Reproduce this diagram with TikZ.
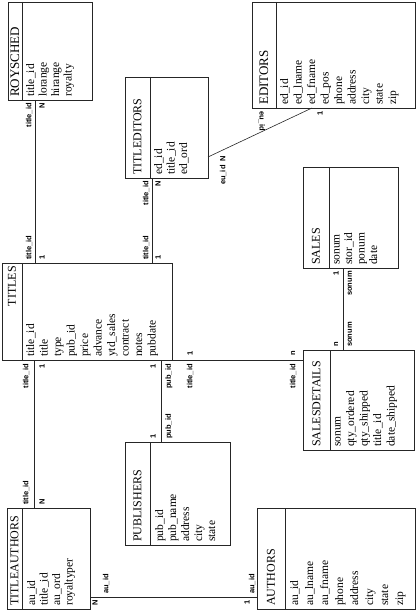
\documentclass[tikz,border=0pt]{standalone}
\usepackage{fontspec}
\setmainfont{Liberation Serif}
\newfontfamily\lblfont{Liberation Sans}
\newcommand\fsz[1]{\fontsize{11.5}{#1}\selectfont}
\begin{document}
\begin{tikzpicture}[x=1pt,y=-1pt,
  box/.style={draw=black!85, line width=0.75pt, inner sep=0pt, outer sep=0pt, anchor=north west},
  divline/.style={draw=black!85, line width=0.75pt},
  ttl/.style={rotate=90, anchor=west, inner sep=0pt, font=\fontsize{12}{13}\selectfont},
  fld/.style={rotate=90, anchor=north west, inner sep=0pt, align=left, font=\fsz{12.5}},
  lbl/.style={rotate=90, inner sep=0pt, font=\lblfont\bfseries\fontsize{7.5}{8}\selectfont},
  conn/.style={draw=black!85, line width=0.6pt}]
\useasboundingbox (0,0) rectangle (417,612);

% ROYSCHED
\node[box, minimum width=84pt, minimum height=98pt] (roy) at (8,2) {};
\draw[divline] (22,2) -- (22,100);
\node[ttl, font=\fontsize{13}{14}\selectfont] (royT) at (15,97) {ROYSCHED};
\node[fld] (royF) at (26,97) {title\_id\\lorange\\hirange\\royalty};

% TITLEDITORS
\node[box, minimum width=83pt, minimum height=101pt] (ted) at (125,77) {};
\draw[divline] (150,77) -- (150,178);
\node[ttl] (tedT) at (137.5,175) {TITLEDITORS};
\node[fld] (tedF) at (154,175) {ed\_id\\title\_id\\ed\_ord};

% EDITORS
\node[box, minimum width=163pt, minimum height=106pt] (ed) at (252,2) {};
\draw[divline] (276,2) -- (276,108);
\node[ttl, font=\fontsize{13}{14}\selectfont] (edT) at (264,105) {EDITORS};
\node[fld, font=\fsz{13.5}] (edF) at (280,105) {ed\_id\\ed\_lname\\ed\_fname\\ed\_pos\\phone\\address\\city\\state\\zip};

% TITLES
\node[box, minimum width=170pt, minimum height=97pt] (tit) at (2,263) {};
\draw[divline] (22,263) -- (22,360);
\node[ttl, anchor=east] (titT) at (12,266) {TITLES};
\node[fld, font=\fsz{13.5}] (titF) at (26,357) {title\_id\\title\\type\\pub\_id\\price\\advance\\ytd\_sales\\contract\\notes\\pubdate};

% SALES
\node[box, minimum width=95pt, minimum height=101pt] (sal) at (303,167) {};
\draw[divline] (329,167) -- (329,268);
\node[ttl] (salT) at (316,265) {SALES};
\node[fld] (salF) at (334,265) {sonum\\stor\_id\\ponum\\date};

% SALESDETAILS
\node[box, minimum width=111pt, minimum height=100pt] (sd) at (303,350) {};
\draw[divline] (330,350) -- (330,450);
\node[ttl] (sdT) at (316.5,447) {SALESDETAILS};
\node[fld, font=\fsz{13.5}] (sdF) at (335,447) {sonum\\qty\_ordered\\qty\_shipped\\title\_id\\date\_shipped};

% PUBLISHERS
\node[box, minimum width=105pt, minimum height=103pt] (pub) at (125,442) {};
\draw[divline] (150,442) -- (150,545);
\node[ttl] (pubT) at (137.5,542) {PUBLISHERS};
\node[fld, font=\fsz{13}] (pubF) at (155,542) {pub\_id\\pub\_name\\address\\city\\state};

% TITLEAUTHORS
\node[box, minimum width=83pt, minimum height=101pt] (ta) at (7,508) {};
\draw[divline] (22,508) -- (22,609);
\node[ttl] (taT) at (14.5,606) {TITLEAUTHORS};
\node[fld] (taF) at (27,606) {au\_id\\title\_id\\au\_ord\\royaltyper};

% AUTHORS
\node[box, minimum width=158pt, minimum height=101pt] (au) at (257,508) {};
\draw[divline] (285,508) -- (285,609);
\node[ttl] (auT) at (271,606) {AUTHORS};
\node[fld, font=\fsz{15}] (auF) at (290,606) {au\_id\\au\_lname\\au\_fname\\phone\\address\\city\\state\\zip};

% connectors
\draw[conn] ([xshift=27pt]roy.south west) -- ([xshift=33pt]tit.north west);
\draw[conn] ([xshift=27pt]ted.south west) -- ([xshift=150pt]tit.north west);
\draw[conn] ([yshift=21pt]ted.south east) -- ([xshift=60pt]ed.south west);
\draw[conn] ([xshift=40pt]sal.south west) -- ([xshift=40pt]sd.north west);
\draw[conn] (tit.south east) -- (tit.south east -| sd.west);
\draw[conn] ([xshift=159pt]tit.south west) -- ([xshift=36pt]pub.north west);
\draw[conn] ([xshift=32pt]tit.south west) -- ([xshift=27pt]ta.north west);
\draw[conn] ([yshift=12pt]ta.south east) -- ([yshift=12pt]au.south west);

% labels: ROYSCHED - TITLES
\node[lbl, anchor=east] (l1a) at (29,103) {title\_id};
\node[lbl, anchor=east] (l1b) at (42,103) {N};
\node[lbl, anchor=west] (l1c) at (29,260) {title\_id};
\node[lbl, anchor=west] (l1d) at (42,260) {1};
% TITLEDITORS - TITLES
\node[lbl, anchor=east] (l2a) at (146,181) {title\_id};
\node[lbl, anchor=east] (l2b) at (158,181) {N};
\node[lbl, anchor=west] (l2c) at (146,260) {title\_id};
\node[lbl, anchor=west] (l2d) at (158,260) {1};
% TITLEDITORS - EDITORS
\node[lbl, anchor=east] (l3a) at (223,156) {eu\_id\enspace N};
\node[lbl, rotate=180, anchor=west] (l3b) at (262,111) {eu\_id};
\node[lbl, anchor=east] (l3c) at (320,111) {1};
% SALES - SALESDETAILS
\node[lbl, anchor=east] (l4a) at (336,271) {1};
\node[lbl, anchor=east] (l4b) at (350,271) {sonum};
\node[lbl, anchor=west] (l4c) at (336,347) {n};
\node[lbl, anchor=west] (l4d) at (350,347) {sonum};
% TITLES - SALESDETAILS
\node[lbl] (l5a) at (190,353) {1};
\node[lbl, anchor=east] (l5b) at (190,364) {title\_id};
\node[lbl] (l5c) at (293,353) {n};
\node[lbl, anchor=east] (l5d) at (293,364) {title\_id};
% TITLES - PUBLISHERS
\node[lbl, anchor=east] (l6a) at (153,364) {1};
\node[lbl, anchor=east] (l6b) at (169,364) {pub\_id};
\node[lbl, anchor=west] (l6c) at (153,439) {1};
\node[lbl, anchor=west] (l6d) at (169,439) {pub\_id};
% TITLES - TITLEAUTHORS
\node[lbl, anchor=east] (l7a) at (26,364) {title\_id};
\node[lbl, anchor=east] (l7b) at (42,364) {1};
\node[lbl, anchor=west] (l7c) at (26,505) {title\_id};
\node[lbl, anchor=west] (l7d) at (42,505) {N};
% TITLEAUTHORS - AUTHORS
\node[lbl, anchor=east] (l8a) at (95,600) {N};
\node[lbl, anchor=west] (l8b) at (106,594) {au\_id};
\node[lbl, anchor=east] (l8c) at (247,600) {1};
\node[lbl, anchor=west] (l8d) at (252,594) {au\_id};
\end{tikzpicture}
\end{document}
